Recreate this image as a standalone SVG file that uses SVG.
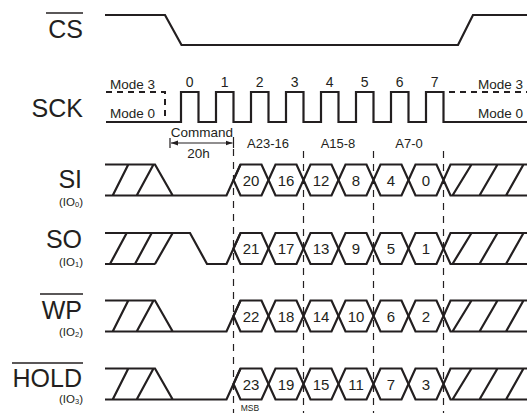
<svg xmlns="http://www.w3.org/2000/svg" width="527" height="413" viewBox="0 0 527 413">
<style>
.w{fill:none;stroke:#231f20;stroke-width:2.2;stroke-linejoin:miter}
.d{fill:none;stroke:#231f20;stroke-width:1.2;stroke-dasharray:7,6}
.dm{fill:none;stroke:#231f20;stroke-width:2;stroke-dasharray:6,5}
.t{font-family:"Liberation Sans",Arial,sans-serif;fill:#231f20}
.big{font-size:25px;text-anchor:end}
.sub{font-size:11.5px;text-anchor:end}
.md{font-size:13.5px}
.n{font-size:14px;text-anchor:middle}
.hx{font-size:15px;text-anchor:middle}
.lb{font-size:13px;text-anchor:middle}
.ov{stroke:#231f20;stroke-width:1.6}
</style>
<defs>
<marker id="ah" viewBox="0 0 10 10" refX="10" refY="5" markerWidth="7" markerHeight="7" orient="auto-start-reverse" markerUnits="userSpaceOnUse"><path d="M0,1.5 L10,5 L0,8.5 z" fill="#231f20"/></marker>
<g id="band">
<polygon class="w" points="233.5,0 240.5,-15.5 261.5,-15.5 268.5,0 261.5,15.5 240.5,15.5"/>
<polygon class="w" points="268.5,0 275.5,-15.5 296.5,-15.5 303.5,0 296.5,15.5 275.5,15.5"/>
<polygon class="w" points="303.5,0 310.5,-15.5 331.5,-15.5 338.5,0 331.5,15.5 310.5,15.5"/>
<polygon class="w" points="338.5,0 345.5,-15.5 366.5,-15.5 373.5,0 366.5,15.5 345.5,15.5"/>
<polygon class="w" points="373.5,0 380.5,-15.5 401.5,-15.5 408.5,0 401.5,15.5 380.5,15.5"/>
<polygon class="w" points="408.5,0 415.5,-15.5 436.5,-15.5 443.5,0 436.5,15.5 415.5,15.5"/>
<path class="w" d="M443.5,0 L450.5,-15.5 H527 M443.5,0 L450.5,15.5 H527 M452.5,15.5 L471.5,-15.5 M479.5,15.5 L497.5,-15.5 M506,15.5 L523.5,-15.5"/>
</g>
<path id="leftA" class="w" d="M105,-15.5 H155 L172.7,15.5 M105,15.5 H226.5 L240.5,-15.5 M112.7,15.5 L128.3,-15.5 M136.7,15.5 L153.5,-15.5"/>
<path id="leftB" class="w" d="M105,-15.5 H190 L207,15.5 H226.5 L240.5,-15.5 M105,15.5 H155 M110,15.5 L126.7,-15.5 M135,15.5 L151.7,-15.5 M155,15.5 L172.7,-15.5"/>
</defs>
<rect width="527" height="413" fill="#fff"/>

<g id="connectors">
<path class="d" d="M233.5,149 V413 M303.5,151 V413 M373.5,151 V413 M443.5,151 V413"/>
<path class="w" style="stroke-width:1.2" d="M233.5,137 V148 M170,138 V148"/>
<line x1="171" y1="143" x2="232.5" y2="143" stroke="#231f20" stroke-width="1.2" marker-start="url(#ah)" marker-end="url(#ah)"/>
<text class="t md" x="202" y="137" text-anchor="middle">Command</text>
<text class="t md" x="198.5" y="158" text-anchor="middle">20h</text>
<text class="t lb" x="268" y="148">A23-16</text>
<text class="t lb" x="338" y="148">A15-8</text>
<text class="t lb" x="409" y="148">A7-0</text>
<text class="t" x="250" y="411" font-size="8.5" text-anchor="middle">MSB</text>
</g>

<g id="cs">
<text class="t big" x="83" y="38">CS</text>
<line class="ov" x1="46" y1="13" x2="83" y2="13"/>
<path class="w" d="M105,15 H165 L181.5,45 H458 L473,15 H527"/>
</g>

<g id="sck">
<text class="t big" x="83" y="117">SCK</text>
<path class="w" d="M106,122 H181 V92 H198.5 V122 H216 V92 H233.5 V122 H251 V92 H268.5 V122 H286 V92 H303.5 V122 H321 V92 H338.5 V122 H356 V92 H373.5 V122 H391 V92 H408.5 V122 H426 V92 H443.5 V122 H527"/>
<path class="dm" d="M106,92 H165 V122"/>
<path class="dm" d="M449,92 H527"/>
<text class="t md" x="110" y="89">Mode 3</text>
<text class="t md" x="110" y="118">Mode 0</text>
<text class="t md" x="478" y="89">Mode 3</text>
<text class="t md" x="478" y="118">Mode 0</text>
<text class="t n" x="189.75" y="87">0</text>
<text class="t n" x="224.75" y="87">1</text>
<text class="t n" x="259.75" y="87">2</text>
<text class="t n" x="294.75" y="87">3</text>
<text class="t n" x="329.75" y="87">4</text>
<text class="t n" x="364.75" y="87">5</text>
<text class="t n" x="399.75" y="87">6</text>
<text class="t n" x="434.75" y="87">7</text>
</g>

<g id="si">
<text class="t big" x="82" y="188">SI</text>
<text class="t sub" x="83" y="206">(IO<tspan font-size="7.5" dy="1">0</tspan><tspan dy="-1">)</tspan></text>
<use href="#leftA" transform="translate(0,180)"/>
<use href="#band" transform="translate(0,180)"/>
<g class="t hx"><text x="251" y="185.5">20</text><text x="286" y="185.5">16</text><text x="321" y="185.5">12</text><text x="356" y="185.5">8</text><text x="391" y="185.5">4</text><text x="426" y="185.5">0</text></g>
</g>

<g id="so">
<text class="t big" x="82" y="248">SO</text>
<text class="t sub" x="83" y="266">(IO<tspan font-size="7.5" dy="1">1</tspan><tspan dy="-1">)</tspan></text>
<use href="#leftB" transform="translate(0,248.5)"/>
<use href="#band" transform="translate(0,248.5)"/>
<g class="t hx"><text x="251" y="254">21</text><text x="286" y="254">17</text><text x="321" y="254">13</text><text x="356" y="254">9</text><text x="391" y="254">5</text><text x="426" y="254">1</text></g>
</g>

<g id="wp">
<text class="t big" x="82" y="319">WP</text>
<line class="ov" x1="40" y1="294" x2="83" y2="294"/>
<text class="t sub" x="83" y="336">(IO<tspan font-size="7.5" dy="1">2</tspan><tspan dy="-1">)</tspan></text>
<use href="#leftA" transform="translate(0,316)"/>
<use href="#band" transform="translate(0,316)"/>
<g class="t hx"><text x="251" y="321.5">22</text><text x="286" y="321.5">18</text><text x="321" y="321.5">14</text><text x="356" y="321.5">10</text><text x="391" y="321.5">6</text><text x="426" y="321.5">2</text></g>
</g>

<g id="hold">
<text class="t big" x="82" y="387">HOLD</text>
<line class="ov" x1="12" y1="363" x2="83" y2="363"/>
<text class="t sub" x="83" y="403">(IO<tspan font-size="7.5" dy="1">3</tspan><tspan dy="-1">)</tspan></text>
<use href="#leftA" transform="translate(0,384)"/>
<use href="#band" transform="translate(0,384)"/>
<g class="t hx"><text x="251" y="389.5">23</text><text x="286" y="389.5">19</text><text x="321" y="389.5">15</text><text x="356" y="389.5">11</text><text x="391" y="389.5">7</text><text x="426" y="389.5">3</text></g>
</g>
</svg>
